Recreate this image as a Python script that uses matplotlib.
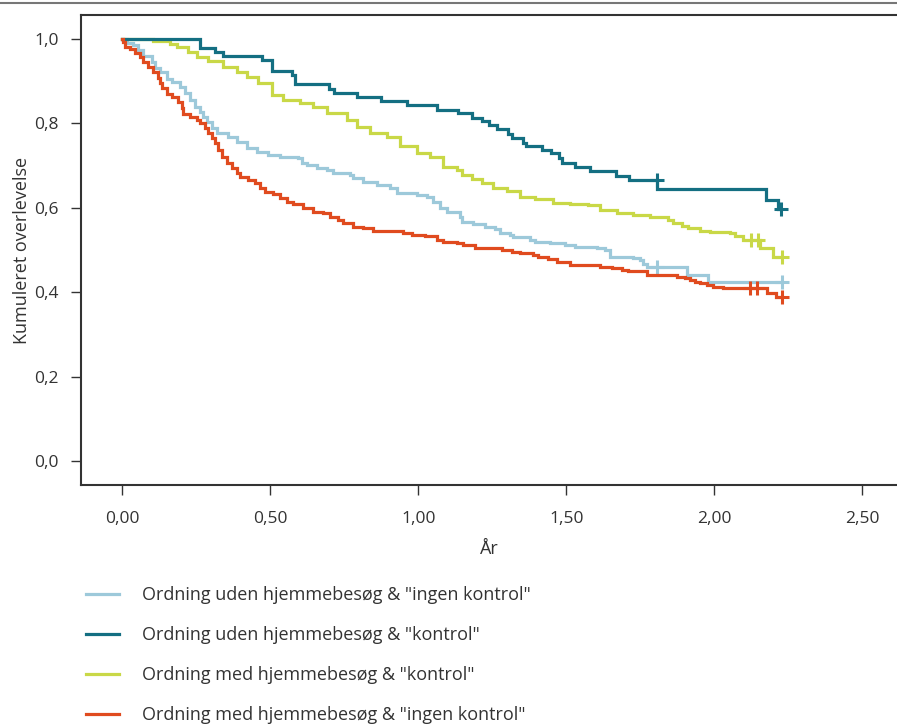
import matplotlib
matplotlib.use("Agg")
import matplotlib.pyplot as plt
from matplotlib.lines import Line2D

plt.rcParams['font.family'] = ['Open Sans', 'DejaVu Sans']

# ---------------- data ----------------
labels = ['Ordning uden hjemmebesøg & "ingen kontrol"',
          'Ordning uden hjemmebesøg & "kontrol"',
          'Ordning med hjemmebesøg & "kontrol"',
          'Ordning med hjemmebesøg & "ingen kontrol"']
colors = ['#9DC9DA', '#146F82', '#C9D847', '#E04B1F']

blue_t = [0, 0.015, 0.035, 0.052, 0.069, 0.100, 0.110, 0.127, 0.150, 0.167, 0.194, 0.211,
          0.228, 0.245, 0.262, 0.272, 0.285, 0.302, 0.319, 0.356, 0.387, 0.421, 0.454, 0.492,
          0.532, 0.593, 0.606, 0.623, 0.657, 0.691, 0.711, 0.769, 0.779, 0.813, 0.860, 0.904,
          0.927, 0.995, 1.029, 1.049, 1.073, 1.096, 1.140, 1.147, 1.184, 1.225, 1.258, 1.275,
          1.309, 1.319, 1.377, 1.394, 1.444, 1.495, 1.529, 1.603, 1.630, 1.647, 1.725, 1.748,
          1.759, 1.772, 1.907, 1.978]
blue_s = [1.0, 0.991, 0.986, 0.974, 0.960, 0.946, 0.931, 0.923, 0.905, 0.899, 0.887, 0.871,
          0.855, 0.838, 0.828, 0.816, 0.804, 0.788, 0.777, 0.768, 0.757, 0.741, 0.733, 0.725,
          0.721, 0.717, 0.707, 0.701, 0.694, 0.690, 0.682, 0.678, 0.670, 0.662, 0.654, 0.646,
          0.634, 0.630, 0.626, 0.614, 0.599, 0.589, 0.579, 0.567, 0.561, 0.555, 0.549, 0.541,
          0.536, 0.530, 0.524, 0.520, 0.516, 0.512, 0.508, 0.504, 0.500, 0.484, 0.480, 0.476,
          0.468, 0.460, 0.441, 0.425]
blue_end = 2.228
blue_cens_t = [1.806, 2.228]

teal_t = [0, 0.262, 0.312, 0.340, 0.470, 0.507, 0.572, 0.583, 0.699, 0.716, 0.793, 0.873,
          0.960, 1.062, 1.133, 1.181, 1.215, 1.238, 1.265, 1.302, 1.316, 1.353, 1.363, 1.417,
          1.448, 1.475, 1.485, 1.529, 1.579, 1.667, 1.711, 1.806, 2.174, 2.214]
teal_s = [1.0, 0.979, 0.969, 0.960, 0.951, 0.925, 0.915, 0.894, 0.881, 0.873, 0.862, 0.854,
          0.844, 0.833, 0.825, 0.814, 0.806, 0.796, 0.786, 0.775, 0.765, 0.754, 0.746, 0.737,
          0.730, 0.717, 0.707, 0.697, 0.688, 0.675, 0.666, 0.644, 0.618, 0.596]
teal_end = 2.225
teal_cens_t = [1.806, 2.225]

yellow_t = [0, 0.103, 0.160, 0.184, 0.221, 0.252, 0.289, 0.340, 0.387, 0.421, 0.458, 0.505,
            0.542, 0.600, 0.644, 0.691, 0.758, 0.792, 0.836, 0.894, 0.938, 0.995, 1.039, 1.083,
            1.130, 1.147, 1.181, 1.215, 1.252, 1.299, 1.343, 1.394, 1.454, 1.512, 1.573, 1.613,
            1.671, 1.725, 1.782, 1.843, 1.860, 1.890, 1.910, 1.951, 1.985, 2.052, 2.069, 2.096,
            2.154, 2.198]
yellow_s = [1.0, 0.996, 0.988, 0.980, 0.969, 0.958, 0.949, 0.934, 0.923, 0.911, 0.895, 0.867,
            0.855, 0.848, 0.838, 0.825, 0.808, 0.792, 0.777, 0.767, 0.746, 0.731, 0.720, 0.697,
            0.690, 0.678, 0.668, 0.658, 0.648, 0.640, 0.626, 0.620, 0.612, 0.609, 0.607, 0.595,
            0.587, 0.583, 0.579, 0.571, 0.563, 0.557, 0.551, 0.546, 0.543, 0.541, 0.532, 0.524,
            0.504, 0.484]
yellow_end = 2.228
yellow_cens_t = [2.124, 2.147, 2.228]

red_t = [0, 0.002, 0.008, 0.025, 0.042, 0.059, 0.069, 0.086, 0.103, 0.120, 0.127, 0.133,
         0.150, 0.167, 0.188, 0.201, 0.204, 0.228, 0.252, 0.262, 0.279, 0.289, 0.302, 0.3125,
         0.323, 0.336, 0.353, 0.370, 0.387, 0.397, 0.424, 0.448, 0.465, 0.481, 0.508, 0.532,
         0.556, 0.576, 0.610, 0.644, 0.677, 0.701, 0.728, 0.745, 0.779, 0.813, 0.846, 0.948,
         0.978, 1.022, 1.063, 1.083, 1.130, 1.150, 1.191, 1.282, 1.316, 1.343, 1.387, 1.404,
         1.438, 1.468, 1.512, 1.613, 1.654, 1.688, 1.708, 1.772, 1.873, 1.900, 1.917, 1.934,
         1.951, 1.975, 1.995, 2.029, 2.177, 2.208]
red_s = [1.0, 0.994, 0.982, 0.976, 0.968, 0.958, 0.946, 0.934, 0.923, 0.907, 0.895, 0.883,
         0.870, 0.862, 0.851, 0.836, 0.822, 0.816, 0.808, 0.800, 0.788, 0.777, 0.765, 0.753,
         0.737, 0.721, 0.707, 0.694, 0.682, 0.674, 0.666, 0.658, 0.646, 0.638, 0.633, 0.623,
         0.614, 0.609, 0.599, 0.591, 0.587, 0.579, 0.571, 0.563, 0.555, 0.551, 0.546, 0.540,
         0.536, 0.533, 0.524, 0.520, 0.516, 0.512, 0.504, 0.500, 0.496, 0.492, 0.488, 0.484,
         0.479, 0.472, 0.464, 0.459, 0.457, 0.453, 0.450, 0.441, 0.437, 0.433, 0.429, 0.425,
         0.421, 0.417, 0.413, 0.409, 0.397, 0.388]
red_end = 2.228
red_cens_t = [2.120, 2.144, 2.228]

x_ticks = [0.0, 0.5, 1.0, 1.5, 2.0, 2.5]
x_ticklabels = ['0,00', '0,50', '1,00', '1,50', '2,00', '2,50']
y_ticks = [0.0, 0.2, 0.4, 0.6, 0.8, 1.0]
y_ticklabels = ['0,0', '0,2', '0,4', '0,6', '0,8', '1,0']

series = [(blue_t, blue_s, blue_end, blue_cens_t),
          (teal_t, teal_s, teal_end, teal_cens_t),
          (yellow_t, yellow_s, yellow_end, yellow_cens_t),
          (red_t, red_s, red_end, red_cens_t)]

# ---------------- figure ----------------
W, H = 897, 727
fig = plt.figure(figsize=(W / 100, H / 100), dpi=100)
ax = fig.add_axes([81 / W, 1 - 485 / H, 1 - 81 / W, (485 - 15) / H])

text_color = '#333333'

def surv_before(ts, ss, t):
    # survival value just before time t (censoring marks sit on the upper level)
    val = ss[0]
    for ti, si in zip(ts, ss):
        if ti < t:
            val = si
    return val

order = [0, 2, 1, 3]
handles = {}
for i in order:
    ts, ss, tend, cens = series[i]
    xs = list(ts) + [tend]
    ys = list(ss) + [ss[-1]]
    ln, = ax.step(xs, ys, where='post', color=colors[i], lw=2.3, solid_joinstyle='miter')
    handles[i] = ln
    cy = [surv_before(ts, ss, c) for c in cens]
    ax.plot(cens, cy, linestyle='none', marker='+', markersize=10, mew=2.2, color=colors[i])

ax.set_xlim(-0.140, 2.617)
ax.set_ylim(-0.057, 1.057)
ax.set_xticks(x_ticks)
ax.set_xticklabels(x_ticklabels)
ax.set_yticks(y_ticks)
ax.set_yticklabels(y_ticklabels)
ax.tick_params(axis='both', direction='out', length=7, width=1, color=text_color,
               labelsize=12.5, labelcolor=text_color, pad=9)
ax.tick_params(axis='x', pad=12)
for sp in ['left', 'bottom', 'top']:
    ax.spines[sp].set_color(text_color)
    ax.spines[sp].set_linewidth(1.5)
ax.spines['right'].set_visible(False)

ax.set_xlabel('År', fontsize=13, color=text_color, labelpad=9)
ax.set_ylabel('Kumuleret overlevelse', fontsize=13, color=text_color, labelpad=2)

# top border line of the figure
fig.add_artist(Line2D([0, 1], [1 - 3 / H, 1 - 3 / H], transform=fig.transFigure,
                      color='#777777', lw=1.5))

# legend
leg = fig.legend([handles[i] for i in range(4)], labels, loc='upper left',
                 bbox_to_anchor=(70 / W, 1 - 570 / H), frameon=False,
                 fontsize=13, handlelength=1.8, handletextpad=1.3, labelspacing=1.22,
                 labelcolor=text_color)
for lh in leg.get_lines():
    lh.set_linewidth(2.3)

fig.savefig('out.png', dpi=100)
